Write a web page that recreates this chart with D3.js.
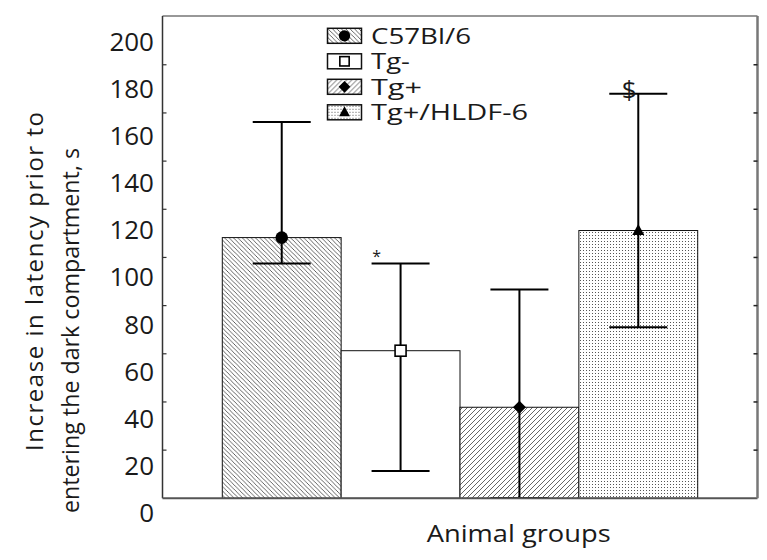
<!DOCTYPE html>
<html>
<head>
<meta charset="utf-8">
<script src="https://cdn.jsdelivr.net/npm/d3@7"></script>
<style>
  html, body { margin: 0; padding: 0; background: #fff; }
  svg { display: block; font-family: "Open Sans", "DejaVu Sans", sans-serif; }
</style>
</head>
<body>
<svg id="chart" width="767" height="560"></svg>
<script>
// ---- data ----
const categories = ["C57Bl/6", "Tg-", "Tg+", "Tg+/HLDF-6"];
const means      = [117, 69, 45, 120];
const errUpper   = [166, 106, 95, 178];
const errLower   = [106, 18, 6.5, 79];
const markers    = ["circle", "square", "diamond", "triangle"];
const fills      = ["hatchBack", "none", "hatchFwd", "dots"];
const yTickLabels = [0, 20, 40, 60, 80, 100, 120, 140, 160, 180, 200];
const annotations = [{cat: "Tg-", text: "*", dx: -24, dy: -2, size: 16},
                     {cat: "Tg+/HLDF-6", text: "$", dx: -9, dy: 5, size: 26}];
const yTitle = ["Increase in latency prior to", "entering the dark compartment, s"];
const xTitle = "Animal groups";

// ---- layout ----
const svg = d3.select("#chart");
const plot = {left: 162.5, right: 757.5, top: 16, bottom: 498.3};

// value scale (aligned with the printed tick labels)
const y = d3.scaleLinear().domain([0, 200]).range([513.3, 42]);
// frame tick-mark scale (inner tick marks of the plotting frame)
const frameTicks = d3.scaleLinear().domain([0, 10]).range([plot.bottom, plot.top + 0.6]);
const x = d3.scaleBand().domain(categories).range([222.3, 697.7]).padding(0);

// ---- patterns ----
const defs = svg.append("defs");
const hb = 4.4;
const pb = defs.append("pattern").attr("id", "hatchBack").attr("patternUnits", "userSpaceOnUse")
  .attr("width", hb).attr("height", hb);
pb.append("rect").attr("width", hb).attr("height", hb).attr("fill", "#fff");
pb.append("path").attr("d", `M0,0 L${hb},${hb} M-1,${hb-1} L1,${hb+1} M${hb-1},-1 L${hb+1},1`)
  .attr("stroke", "#333").attr("stroke-width", 0.75);

const hf = 5;
const pf = defs.append("pattern").attr("id", "hatchFwd").attr("patternUnits", "userSpaceOnUse")
  .attr("width", hf).attr("height", hf);
pf.append("rect").attr("width", hf).attr("height", hf).attr("fill", "#fff");
pf.append("path").attr("d", `M0,${hf} L${hf},0 M-1,1 L1,-1 M${hf-1},${hf+1} L${hf+1},${hf-1}`)
  .attr("stroke", "#333").attr("stroke-width", 0.75);

const pd = defs.append("pattern").attr("id", "dots").attr("patternUnits", "userSpaceOnUse")
  .attr("width", 3).attr("height", 3);
pd.append("rect").attr("width", 3).attr("height", 3).attr("fill", "#fff");
pd.append("rect").attr("x", 1).attr("y", 1).attr("width", 1).attr("height", 1).attr("fill", "#555");

function fillOf(f) { return f === "none" ? "#fff" : `url(#${f})`; }

// ---- bars ----
const data = categories.map((c, i) => ({c, m: means[i], hi: errUpper[i], lo: errLower[i], mk: markers[i], f: fills[i]}));

svg.append("g").selectAll("rect").data(data).join("rect")
  .attr("x", d => x(d.c))
  .attr("y", d => y(d.m))
  .attr("width", x.bandwidth())
  .attr("height", d => plot.bottom - y(d.m))
  .attr("fill", d => fillOf(d.f))
  .attr("stroke", "#111").attr("stroke-width", 1);

// ---- error bars ----
const capW = 29;
const eb = svg.append("g").attr("stroke", "#000").attr("stroke-width", 2);
data.forEach(d => {
  const cx = x(d.c) + x.bandwidth() / 2;
  const yl = Math.min(y(d.lo), plot.bottom);
  eb.append("line").attr("x1", cx).attr("x2", cx).attr("y1", y(d.hi)).attr("y2", yl);
  eb.append("line").attr("x1", cx - capW).attr("x2", cx + capW).attr("y1", y(d.hi)).attr("y2", y(d.hi));
  eb.append("line").attr("x1", cx - capW).attr("x2", cx + capW).attr("y1", yl).attr("y2", yl);
});

// ---- markers ----
function drawMarker(g, type, cx, cy, s) {
  s = s || 1;
  if (type === "circle") {
    g.append("circle").attr("cx", cx).attr("cy", cy).attr("r", 6.3 * s).attr("fill", "#000");
  } else if (type === "square") {
    g.append("rect").attr("x", cx - 5.5 * s).attr("y", cy - 5.5 * s).attr("width", 11 * s).attr("height", 11 * s)
      .attr("fill", "#fff").attr("stroke", "#000").attr("stroke-width", 1.6);
  } else if (type === "diamond") {
    const r = 6.5 * s;
    g.append("path").attr("d", `M${cx},${cy - r} L${cx + r},${cy} L${cx},${cy + r} L${cx - r},${cy} Z`)
      .attr("fill", "#000");
  } else if (type === "triangle") {
    const h = 11 * s, w = 12 * s;
    g.append("path").attr("d", `M${cx},${cy - h * 0.6} L${cx + w / 2},${cy + h * 0.4} L${cx - w / 2},${cy + h * 0.4} Z`)
      .attr("fill", "#000");
  }
}
const mg = svg.append("g");
data.forEach(d => drawMarker(mg, d.mk, x(d.c) + x.bandwidth() / 2, y(d.m)));

// ---- frame ----
const frame = svg.append("g");
frame.append("line").attr("x1", plot.left).attr("x2", plot.left).attr("y1", plot.top).attr("y2", plot.bottom)
  .attr("stroke", "#333").attr("stroke-width", 1.5);
frame.append("line").attr("x1", plot.left).attr("x2", plot.right).attr("y1", plot.bottom).attr("y2", plot.bottom)
  .attr("stroke", "#555").attr("stroke-width", 2);
frame.append("line").attr("x1", plot.left).attr("x2", plot.right).attr("y1", plot.top).attr("y2", plot.top)
  .attr("stroke", "#333").attr("stroke-width", 1.2);
frame.append("line").attr("x1", plot.right).attr("x2", plot.right).attr("y1", plot.top).attr("y2", plot.bottom)
  .attr("stroke", "#777").attr("stroke-width", 2.5);
const tickVals = d3.range(1, 10);
frame.selectAll("line.lt").data(tickVals).join("line").attr("class", "lt")
  .attr("x1", plot.left).attr("x2", plot.left + 4)
  .attr("y1", d => frameTicks(d)).attr("y2", d => frameTicks(d))
  .attr("stroke", "#333").attr("stroke-width", 1.2);
frame.selectAll("line.rt").data(tickVals).join("line").attr("class", "rt")
  .attr("x1", plot.right - 4).attr("x2", plot.right)
  .attr("y1", d => frameTicks(d)).attr("y2", d => frameTicks(d))
  .attr("stroke", "#222").attr("stroke-width", 1.5);

// ---- y tick labels via axis ----
const yAxis = d3.axisLeft(y).tickValues(yTickLabels).tickSize(0).tickPadding(0);
const ya = svg.append("g").attr("transform", "translate(154,0)").call(yAxis);
ya.select(".domain").remove();
ya.selectAll("text").attr("font-size", 26).attr("fill", "#1a1a1a")
  .attr("font-family", "'Open Sans', sans-serif");

// ---- titles ----
const yt = svg.append("g").attr("font-size", 24).attr("fill", "#1a1a1a");
yt.append("text").attr("transform", "translate(43,281.5) rotate(-90)").attr("text-anchor", "middle")
  .attr("textLength", 339).attr("lengthAdjust", "spacing").text(yTitle[0]);
yt.append("text").attr("transform", "translate(79,330.5) rotate(-90)").attr("text-anchor", "middle")
  .attr("textLength", 365).attr("lengthAdjust", "spacingAndGlyphs").text(yTitle[1]);

svg.append("text").attr("x", 518.7).attr("y", 541.7).attr("text-anchor", "middle")
  .attr("font-size", 24.5).attr("fill", "#1a1a1a")
  .attr("textLength", 184).attr("lengthAdjust", "spacingAndGlyphs").text(xTitle);

// ---- annotations ----
annotations.forEach(a => {
  const d = data.find(e => e.c === a.cat);
  const cx = x(d.c) + x.bandwidth() / 2;
  svg.append("text").attr("x", cx + a.dx).attr("y", y(d.hi) + a.dy).attr("text-anchor", "middle")
    .attr("font-size", a.size).attr("fill", "#1a1a1a").text(a.text);
});

// ---- legend ----
const legendWidths = [100, 39, 51, 157];
const leg = svg.append("g").attr("transform", "translate(327.5,28.3)");
const rowH = 25.5;
data.forEach((d, i) => {
  const g = leg.append("g").attr("transform", `translate(0,${i * rowH})`);
  g.append("rect").attr("width", 34).attr("height", 15).attr("fill", fillOf(d.f))
    .attr("stroke", "#111").attr("stroke-width", 1.5);
  drawMarker(g, d.mk, 17, 7.5, d.mk === "square" ? 0.85 : 0.9);
  g.append("text").attr("x", 43.5).attr("y", 7.5).attr("dy", "0.36em").attr("font-size", 22)
    .attr("fill", "#1a1a1a")
    .attr("textLength", legendWidths[i]).attr("lengthAdjust", "spacingAndGlyphs").text(d.c);
});
</script>
</body>
</html>
